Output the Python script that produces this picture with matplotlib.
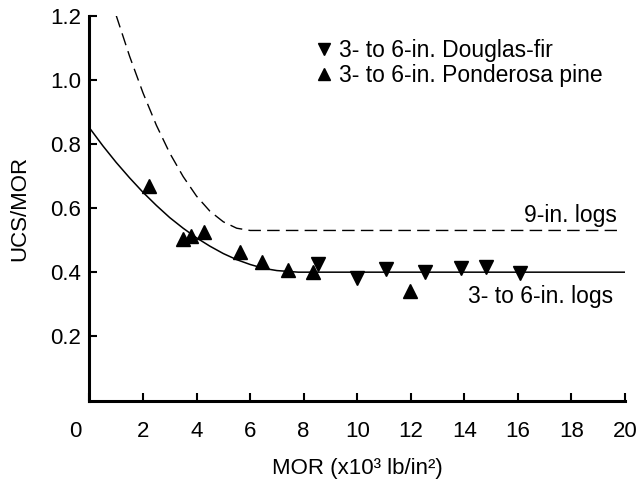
import matplotlib
matplotlib.use("Agg")
import matplotlib.pyplot as plt
import matplotlib.transforms as mtransforms
from matplotlib.lines import Line2D

plt.rcParams['font.family'] = ['Liberation Sans', 'DejaVu Sans']
plt.rcParams['font.size'] = 16

# measured points, MOR in 10^3 lb/in^2
fir_mor = [8.52, 9.98, 11.07, 12.53, 13.87, 14.80, 16.09]
fir_ratio = [0.425, 0.382, 0.410, 0.400, 0.412, 0.417, 0.396]

pine_mor = [2.24, 3.48, 3.79, 4.28, 5.61, 6.43, 7.42, 8.36, 11.96]
pine_ratio = [0.669, 0.503, 0.513, 0.525, 0.464, 0.433, 0.407, 0.400, 0.342]

# trend line for 3- to 6-in. logs
small_mor = [0, 0.5, 1, 1.5, 2, 2.5, 3, 3.5, 4, 4.5, 5, 5.5, 6, 6.5, 7, 7.8, 20]
small_ratio = [0.850, 0.794, 0.742, 0.694, 0.649, 0.608, 0.570, 0.537, 0.507,
               0.481, 0.458, 0.439, 0.424, 0.412, 0.405, 0.400, 0.400]

# trend line for 9-in. logs
large_mor = [1.0, 1.5, 2.0, 2.5, 3.0, 3.5, 4.0, 4.5, 5.0, 5.5, 6.0, 19.7]
large_ratio = [1.200, 1.073, 0.959, 0.858, 0.771, 0.698, 0.637, 0.590,
               0.557, 0.537, 0.530, 0.530]

fig = plt.figure(figsize=(6.36, 4.83), dpi=100)
ax = fig.add_axes([0.1406, 0.1708, 0.8421, 0.7971])

ax.plot(small_mor, small_ratio, color='black', lw=1.1)
ax.plot(large_mor, large_ratio, color='black', lw=1.0, dashes=(9, 4.5))

ax.plot(fir_mor, fir_ratio, 'v', color='black', ms=10, ls='none')
ax.plot(pine_mor, pine_ratio, '^', color='black', ms=10, ls='none')

ax.text(19.7, 0.578, '9-in. logs', ha='right', va='center', fontsize=16.5)
ax.text(19.55, 0.323, '3- to 6-in. logs', ha='right', va='center', fontsize=16.5)

handles = [Line2D([], [], marker='v', color='black', ls='none', ms=8.5),
           Line2D([], [], marker='^', color='black', ls='none', ms=8.5)]
ax.legend(handles, ['3- to 6-in. Douglas-fir', '3- to 6-in. Ponderosa pine'],
          loc='upper left', bbox_to_anchor=(0.425, 0.94), frameon=False,
          handlelength=0.6, handletextpad=0.35, labelspacing=0.12,
          borderpad=0, borderaxespad=0, fontsize=16.5)

ax.set_xlim(0, 20)
ax.set_ylim(0, 1.2)
ax.set_xticks(range(0, 21, 2))
ax.set_yticks([0.2, 0.4, 0.6, 0.8, 1.0, 1.2])
ax.set_yticklabels(['0.2', '0.4', '0.6', '0.8', '1.0', '1.2'])

for side in ['top', 'right']:
    ax.spines[side].set_visible(False)
for side in ['left', 'bottom']:
    ax.spines[side].set_linewidth(2.2)

ax.tick_params(direction='in', length=6, width=1.5, labelsize=16)
ax.tick_params(axis='x', pad=15)
ax.tick_params(axis='y', pad=6)

# nudge the "0" at the origin out from under the y axis
lbl0 = ax.get_xticklabels()[0]
lbl0.set_transform(lbl0.get_transform() +
                   mtransforms.ScaledTranslation(-0.14, 0, fig.dpi_scale_trans))

ax.set_xlabel('MOR (x10³ lb/in²)', fontsize=16, labelpad=11)
ax.set_ylabel('UCS/MOR', fontsize=16, labelpad=14)

fig.savefig('out.png', dpi=100)
